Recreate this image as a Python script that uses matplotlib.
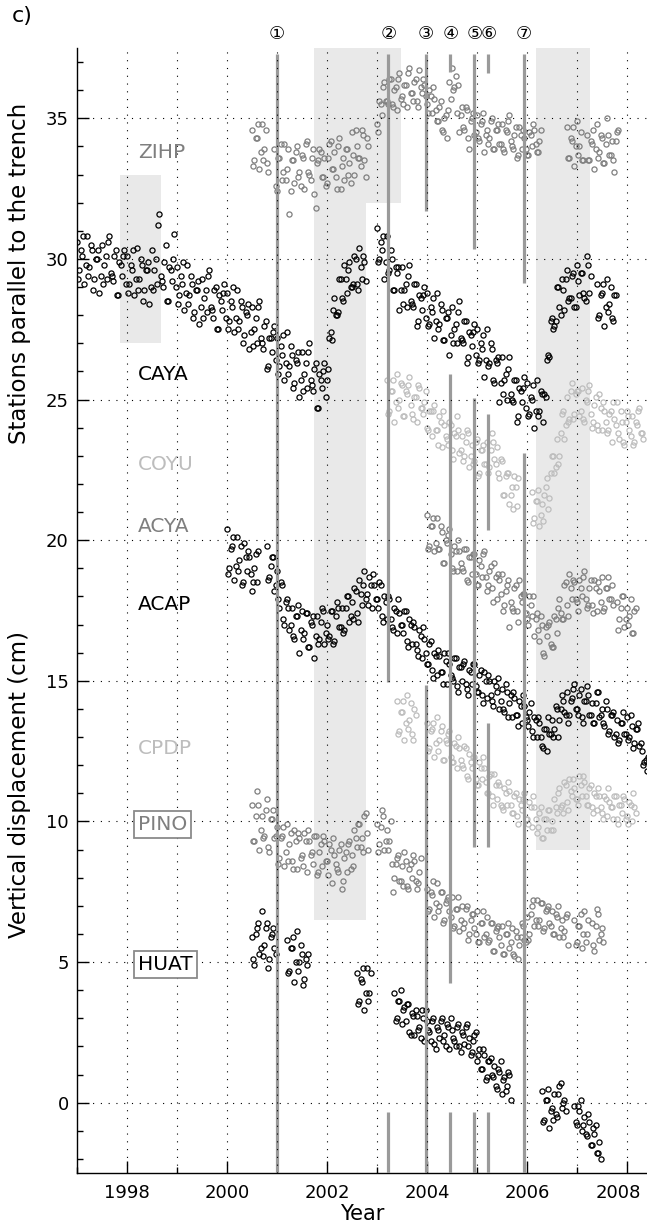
import numpy as np
import matplotlib
matplotlib.use("Agg")
import matplotlib.pyplot as plt
import matplotlib.transforms as mtransforms

plt.rcParams['font.family'] = ['DejaVu Sans', 'Noto Sans CJK JP']

STEP = 0.05  # sampling of the typed values (years); second set sits half a step later

# ---- data: segment start years and values (cm) ----
zihp_start = [2000.5, 2000.95, 2003.0, 2006.8, 2007.2]
zihp_a = [
    [34.6, 33.5, 34.3, 33.2, 34.8, 33.9, 33.4],
    [33.9, 32.4, 33.6, 32.8, 34.1, 33.2, 31.6, 33.5, 32.7, 34.0,
     33.1, 33.7, 32.5, 34.2, 33.0, 33.6, 32.3, 33.4, 33.9, 32.9,
     33.6, 32.7, 34.1, 33.2, 33.8, 32.5, 34.3, 33.3, 32.8, 33.9,
     33.4, 34.5, 33.0, 34.0, 33.6, 34.6, 33.5, 34.3],
    [34.8, 35.6, 35.1, 36.3, 35.6, 36.4, 35.5, 36.0, 35.3, 36.6,
     35.8, 36.2, 35.4, 36.8, 35.9, 36.3, 35.6, 36.7, 35.9, 36.2,
     35.5, 36.0, 35.2, 35.7, 34.9, 35.4, 34.6, 35.0, 34.3, 36.3,
     36.8, 36.1, 35.2, 34.5, 35.4, 34.6, 35.3, 33.9, 35.0, 34.4,
     35.1, 34.2, 34.9, 33.8, 34.6, 34.3, 35.0, 33.9, 34.6, 34.1,
     34.8, 33.8, 34.5, 35.1, 34.0, 34.4, 33.6, 34.7, 33.9, 34.3,
     33.7, 34.5, 34.0, 34.6, 33.8, 34.2],
    [34.7, 33.6, 34.2, 33.3, 34.9, 34.0, 33.5],
    [34.4, 33.5, 34.1, 33.2, 34.8, 33.8, 34.3, 33.4, 35.0, 33.7, 34.2, 33.1, 34.5],
]
zihp_b = [
    [33.3, 34.3, 34.8, 33.8, 33.5, 34.6, 33.1],
    [32.6, 33.6, 34.1, 33.1, 32.8, 33.9, 32.4, 33.5, 33.8, 32.9,
     32.6, 33.6, 34.1, 33.1, 32.8, 33.9, 31.8, 33.5, 33.8, 32.9,
     32.6, 33.6, 34.2, 33.2, 32.9, 34.0, 32.5, 33.6, 33.9, 33.0,
     32.7, 33.7, 34.6, 33.6, 33.3, 34.4, 32.9, 34.0],
    [34.5, 35.5, 36.1, 35.6, 35.5, 36.4, 35.4, 36.1, 36.4, 35.7,
     35.5, 36.2, 36.6, 35.9, 35.6, 36.4, 35.4, 36.1, 36.4, 35.8,
     35.2, 35.8, 36.1, 35.3, 34.9, 35.6, 34.5, 35.1, 35.3, 35.7,
     36.0, 36.5, 36.2, 35.1, 34.7, 35.4, 34.3, 34.9, 35.2, 34.5,
     34.3, 34.8, 35.2, 34.4, 34.1, 34.9, 33.9, 34.6, 34.8, 34.1,
     33.9, 34.6, 34.9, 34.2, 33.9, 34.7, 33.7, 34.4, 34.6, 33.9,
     33.7, 34.4, 34.8, 34.1, 33.8, 34.6],
    [33.6, 34.3, 34.7, 34.0, 33.7, 34.5, 33.5],
    [33.5, 34.2, 34.6, 33.9, 33.6, 34.4, 33.4, 34.1, 34.4, 33.7, 33.5, 34.2, 34.6],
]

caya_start = [1997.0, 2002.0, 2003.0, 2006.35, 2007.4]
caya_a = [
    [30.6, 29.6, 30.1, 29.1, 30.8, 29.7, 30.3, 29.3, 30.0, 28.8,
     30.5, 29.8, 29.3, 30.8, 29.4, 30.1, 28.7, 29.9, 29.4, 30.3,
     30.1, 29.1, 29.6, 28.7, 30.4, 29.3, 29.8, 28.9, 29.6, 28.4,
     30.3, 29.6, 29.1, 31.6, 29.2, 29.9, 28.5, 29.7, 29.2, 30.9,
     29.7, 28.7, 29.1, 28.2, 29.8, 28.7, 29.1, 28.1, 28.9, 27.7,
     29.3, 28.6, 28.1, 29.6, 28.2, 28.9, 27.5, 28.7, 28.2, 29.1,
     28.8, 27.8, 28.3, 27.4, 28.9, 27.8, 28.3, 27.3, 28.0, 26.8,
     28.3, 27.5, 27.0, 28.5, 27.0, 27.6, 26.1, 27.2, 26.7, 27.6,
     27.2, 26.2, 26.6, 25.7, 27.4, 26.2, 26.6, 25.6, 26.3, 25.1,
     26.7, 25.9, 25.4, 27.0, 25.5, 26.1, 24.7, 25.9, 25.4, 26.3],
    [25.7, 27.2, 27.1, 28.6, 28.0, 29.3, 28.6, 29.8, 28.8, 29.9,
     29.0, 30.1, 29.1, 30.4, 29.3, 29.9],
    [31.1, 30.0, 30.3, 29.3, 30.8, 29.6, 30.0, 28.9, 29.5, 28.2,
     29.7, 28.9, 28.3, 29.8, 28.4, 29.1, 27.6, 28.7, 28.2, 29.0,
     28.8, 27.7, 28.1, 27.2, 28.8, 27.7, 28.2, 27.1, 27.9, 26.6,
     28.3, 27.5, 27.0, 28.5, 27.1, 27.8, 26.3, 27.4, 26.9, 27.7,
     27.5, 26.4, 26.8, 25.8, 27.5, 26.3, 26.8, 25.6, 26.3, 24.9,
     26.5, 25.7, 25.0, 26.5, 25.0, 25.7, 24.2, 25.4, 24.9, 25.8,
     25.6, 24.5, 25.0, 24.0, 25.7, 24.6, 25.2],
    [25.2, 26.4, 26.5, 27.9, 27.6, 29.0, 28.3, 29.3, 28.2, 29.6,
     28.6, 29.4, 28.3, 29.8, 28.7, 29.5, 28.6, 30.1, 28.8],
    [29.1, 28.0, 28.8, 27.6, 29.3, 28.4, 27.9, 28.7],
]
caya_b = [
    [29.3, 30.3, 30.8, 29.8, 29.4, 30.5, 28.9, 30.0, 30.3, 29.4,
     29.1, 30.1, 30.6, 29.5, 29.2, 30.3, 28.7, 29.8, 30.1, 29.1,
     28.8, 29.8, 30.3, 29.3, 28.9, 30.0, 28.5, 29.6, 29.9, 29.0,
     28.9, 30.0, 31.2, 29.4, 29.0, 30.5, 28.5, 29.6, 30.0, 29.0,
     28.4, 29.4, 29.9, 28.8, 28.4, 29.4, 27.9, 28.9, 29.2, 28.3,
     27.9, 28.9, 29.4, 28.3, 27.9, 29.0, 27.5, 28.5, 28.8, 27.9,
     27.5, 28.5, 29.0, 27.9, 27.5, 28.5, 27.0, 28.1, 28.4, 27.4,
     26.9, 27.9, 28.3, 27.2, 26.8, 27.8, 26.2, 27.2, 27.4, 26.4,
     25.9, 26.9, 27.3, 26.3, 25.9, 26.9, 25.4, 26.4, 26.7, 25.7,
     25.3, 26.3, 26.7, 25.7, 25.3, 26.3, 24.7, 25.7, 26.0, 25.1],
    [26.1, 27.4, 28.2, 28.0, 28.1, 29.3, 28.5, 29.3, 29.6, 29.0,
     29.1, 30.0, 28.9, 29.7, 30.1, 29.2],
    [29.9, 30.6, 30.8, 29.9, 29.5, 30.3, 28.9, 29.7, 29.7, 28.9,
     28.4, 29.1, 29.4, 28.5, 28.3, 29.1, 27.8, 28.6, 28.7, 27.9,
     27.6, 28.3, 28.6, 27.8, 27.5, 28.4, 27.1, 27.9, 28.1, 27.3,
     27.0, 27.7, 28.1, 27.2, 27.0, 27.8, 26.5, 27.3, 27.4, 26.6,
     26.3, 27.0, 27.3, 26.4, 26.2, 27.0, 25.7, 26.4, 26.5, 25.6,
     25.2, 25.9, 26.1, 25.2, 24.9, 25.7, 24.4, 25.3, 25.4, 24.7,
     24.4, 25.1, 25.5, 24.6, 24.4, 25.3, 24.2],
    [25.1, 26.6, 27.8, 27.5, 27.8, 29.0, 28.0, 28.9, 29.3, 28.5,
     28.6, 29.5, 28.3, 29.2, 29.5, 28.8, 28.5, 29.8, 29.4],
    [27.9, 28.7, 29.1, 28.3, 28.1, 29.0, 27.8, 28.7],
]

coyu_start = [2003.2, 2006.1]
coyu_a = [
    [25.7, 24.6, 25.3, 24.2, 25.9, 25.0, 25.5, 24.4, 25.2, 25.8,
     24.5, 25.1, 24.2, 25.4, 24.7, 24.9, 24.0, 24.6, 23.7, 24.8,
     23.9, 24.4, 23.3, 24.1, 23.6, 24.2, 23.2, 23.8, 24.4, 23.1,
     23.7, 23.0, 23.9, 22.6, 23.4, 22.8, 23.6, 22.4, 23.2, 22.7,
     23.5, 22.6, 23.8, 22.9, 23.3, 22.2, 22.8, 21.6, 22.4, 21.3,
     21.9, 22.3, 21.2],
    [21.7, 20.8, 21.4, 20.5, 21.3, 21.6, 22.2, 21.5, 23.0, 22.4,
     23.6, 23.0, 24.5, 23.6, 25.1, 24.3, 25.6, 24.5, 25.3, 24.4,
     25.4, 24.2, 24.9, 25.5, 24.0, 24.8, 24.1, 25.2, 23.9, 24.6,
     23.8, 24.5, 23.5, 24.3, 24.9, 23.6, 24.2, 23.4, 24.6, 23.9,
     24.4, 23.5, 24.1, 24.7, 23.8],
]
coyu_b = [
    [24.5, 25.3, 25.7, 24.9, 24.7, 25.6, 24.4, 25.3, 25.5, 24.8,
     24.3, 25.1, 25.5, 24.7, 24.5, 25.3, 23.9, 24.6, 24.6, 23.9,
     23.4, 24.2, 24.6, 23.7, 23.4, 24.1, 22.9, 23.7, 23.9, 23.2,
     22.8, 23.5, 23.8, 23.0, 22.7, 23.5, 22.3, 23.2, 23.4, 22.7,
     22.4, 23.2, 23.5, 22.7, 22.4, 22.9, 21.6, 22.3, 22.4, 21.6,
     21.1, 21.9, 22.2],
    [20.6, 21.4, 21.8, 20.9, 20.7, 21.9, 21.1, 22.4, 23.0, 22.6,
     22.7, 23.8, 24.6, 24.1, 24.2, 25.3, 24.3, 25.2, 25.3, 24.6,
     24.3, 25.0, 25.3, 24.5, 24.2, 25.1, 23.9, 24.7, 24.9, 24.2,
     23.9, 24.6, 24.9, 24.1, 23.8, 24.6, 23.5, 24.2, 24.4, 23.7,
     23.4, 24.2, 24.6, 23.8, 23.6],
]

acya_start = [2004.0, 2007.8]
acya_a = [
    [20.9, 19.8, 20.5, 19.6, 20.8, 19.7, 20.3, 19.2, 19.9, 20.4,
     19.0, 19.8, 18.9, 19.6, 19.0, 19.7, 18.6, 19.4, 18.8, 19.5,
     18.4, 19.3, 18.7, 19.6, 18.2, 18.9, 18.3, 19.2, 17.9, 18.6,
     18.8, 17.7, 18.4, 16.9, 17.6, 18.3, 17.5, 18.6, 17.8, 18.1,
     17.2, 18.0, 17.3, 16.6, 17.4, 16.4, 17.0, 15.9, 16.6, 17.1,
     16.2, 17.3, 16.7, 17.9, 17.2, 18.4, 17.7, 18.8, 17.9, 18.5,
     17.8, 18.6, 18.0, 18.9, 17.6, 18.3, 17.7, 18.6, 17.5, 18.2,
     18.7, 17.6, 18.3, 17.9, 18.4],
    [17.8, 17.2, 18.0, 16.9, 17.6, 17.3, 16.7, 17.5],
]
acya_b = [
    [19.7, 20.5, 20.8, 19.9, 19.7, 20.5, 19.2, 20.0, 20.2, 19.5,
     18.9, 19.6, 20.0, 19.2, 18.9, 19.7, 18.5, 19.4, 19.5, 18.8,
     18.4, 19.1, 19.5, 18.7, 18.4, 19.1, 17.8, 18.7, 18.8, 18.1,
     17.5, 18.2, 18.6, 17.8, 17.5, 18.4, 17.1, 18.0, 18.1, 17.4,
     17.0, 17.7, 18.0, 17.2, 16.8, 17.3, 16.0, 16.9, 17.0, 16.3,
     16.2, 17.2, 17.6, 17.4, 17.2, 18.5, 17.3, 18.3, 18.6, 17.9,
     17.5, 18.3, 18.7, 17.9, 17.7, 18.6, 17.4, 18.3, 18.5, 17.8,
     17.5, 18.3, 18.7, 17.9, 17.7],
    [16.8, 17.6, 18.0, 17.2, 17.0, 17.9, 16.7, 17.6],
]

acap_start = [2000.0, 2000.8]
acap_a = [
    [20.4, 19.0, 19.8, 18.6, 20.1, 19.3, 18.4, 19.9, 18.9, 19.4, 18.2, 19.0, 18.5],
    [19.8, 18.7, 19.4, 18.2, 18.9, 17.6, 18.4, 17.0, 17.9, 16.8,
     17.6, 16.5, 17.3, 16.0, 17.5, 16.7, 17.4, 16.2, 17.0, 15.8,
     17.3, 16.5, 17.6, 16.3, 17.0, 16.6, 17.5, 16.4, 17.8, 16.9,
     17.6, 16.8, 18.0, 17.1, 17.8, 18.3, 17.4, 18.6, 17.7, 18.9,
     18.1, 18.7, 17.6, 18.4, 17.9, 18.5, 17.3, 18.0, 17.2, 17.9,
     16.9, 17.6, 16.7, 17.4, 17.0, 17.5, 16.4, 17.2, 16.3, 16.9,
     16.1, 16.8, 15.8, 16.5, 15.6, 16.3, 15.4, 16.0, 15.2, 15.9,
     15.3, 16.0, 14.9, 15.6, 15.1, 15.8, 14.8, 15.5, 15.0, 15.7,
     14.7, 15.4, 14.9, 15.6, 14.6, 15.2, 14.5, 15.3, 14.4, 15.0,
     14.3, 15.0, 14.6, 14.0, 14.7, 13.9, 14.6, 14.2, 13.7, 14.4,
     13.8, 14.3, 13.5, 14.1, 13.6, 13.9, 13.2, 13.7, 13.0, 13.5,
     12.7, 13.3, 12.5, 13.1, 13.6, 13.3, 14.0, 13.6, 14.5, 13.9,
     14.6, 13.8, 14.4, 14.9, 14.0, 14.5, 13.7, 14.3, 14.8, 13.8,
     14.2, 13.5, 14.6, 13.7, 14.0, 13.4, 14.0, 13.2, 13.8, 13.0,
     13.6, 12.9, 13.5, 13.1, 13.7, 13.0, 13.4, 12.8, 13.3, 12.7,
     12.5, 12.1, 11.8],
]
acap_b = [
    [18.8, 19.7, 20.1, 19.1, 18.9, 19.8, 18.5, 19.4, 19.6, 18.8, 18.5, 19.5, 19.6],
    [18.6, 19.1, 19.4, 18.4, 17.9, 18.5, 17.2, 17.8, 17.6, 17.0,
     16.6, 17.3, 17.7, 16.8, 16.5, 17.4, 16.2, 17.1, 17.3, 16.6,
     16.3, 17.1, 17.5, 16.7, 16.5, 17.5, 16.3, 17.3, 17.6, 16.9,
     16.7, 17.6, 18.0, 17.3, 17.2, 18.2, 17.1, 18.1, 18.4, 17.9,
     17.7, 18.4, 18.8, 17.9, 17.6, 18.4, 17.1, 17.8, 18.0, 17.2,
     16.8, 17.5, 17.9, 17.0, 16.7, 17.5, 16.2, 17.0, 17.1, 16.3,
     15.9, 16.6, 16.9, 16.0, 15.6, 16.4, 15.1, 15.9, 16.1, 15.3,
     14.9, 15.7, 16.0, 15.2, 15.0, 15.8, 14.6, 15.5, 15.6, 14.9,
     14.5, 15.3, 15.6, 14.8, 14.6, 15.4, 14.2, 15.0, 15.2, 14.5,
     14.1, 14.8, 15.1, 14.3, 14.0, 14.9, 13.7, 14.5, 14.6, 13.8,
     13.4, 14.1, 14.5, 13.7, 13.4, 14.2, 13.0, 13.6, 13.7, 13.0,
     12.6, 13.3, 13.7, 13.1, 13.0, 14.1, 13.0, 14.0, 14.3, 13.8,
     13.5, 14.3, 14.7, 14.0, 13.8, 14.7, 13.5, 14.3, 14.5, 13.8,
     13.5, 14.2, 14.6, 13.8, 13.5, 14.3, 13.1, 13.8, 13.9, 13.1,
     12.8, 13.5, 13.9, 13.1, 12.9, 13.8, 12.6, 13.3, 13.5, 12.8,
     12.0, 12.2, 12.3],
]

cpdp_start = [2003.4, 2004.0]
cpdp_a = [
    [14.3, 13.2, 13.9, 12.9, 14.5, 13.6, 13.1, 14.0],
    [13.5, 12.6, 13.3, 12.3, 13.7, 12.9, 13.4, 12.2, 12.8, 13.2,
     12.1, 12.8, 11.9, 12.6, 12.0, 12.7, 11.6, 12.4, 11.9, 12.3,
     11.3, 12.1, 11.5, 11.9, 11.0, 11.6, 10.9, 11.7, 10.8, 11.3,
     10.5, 11.2, 10.6, 11.1, 10.3, 10.9, 10.2, 10.8, 10.4, 11.0,
     10.1, 10.7, 9.8, 10.5, 9.6, 10.3, 9.4, 10.1, 9.7, 10.4,
     10.0, 10.8, 10.3, 11.2, 10.6, 11.4, 10.7, 11.5, 10.9, 11.2,
     10.8, 11.6, 10.9, 11.4, 10.6, 11.2, 10.5, 11.0, 10.4, 10.9,
     10.3, 10.9, 10.2, 10.7, 10.5, 10.9, 10.1, 10.6, 10.3, 10.8,
     10.2, 10.7, 10.0, 10.5],
]
cpdp_b = [
    [13.1, 13.9, 14.3, 13.5, 13.3, 14.2, 12.9, 13.8],
    [12.5, 13.2, 13.5, 12.8, 12.5, 13.2, 12.2, 12.9, 13.1, 12.3,
     12.1, 12.7, 13.0, 12.2, 11.9, 12.6, 11.5, 12.1, 12.3, 11.5,
     11.3, 11.9, 12.3, 11.4, 11.0, 11.7, 10.6, 11.3, 11.4, 10.6,
     10.4, 11.0, 11.4, 10.6, 10.3, 11.0, 9.9, 10.6, 10.8, 10.1,
     9.9, 10.5, 10.9, 10.1, 9.8, 10.5, 9.4, 10.1, 10.4, 9.7,
     9.7, 10.5, 11.0, 10.5, 10.3, 11.3, 10.4, 11.1, 11.5, 10.8,
     10.6, 11.3, 11.6, 10.9, 10.6, 11.3, 10.3, 10.9, 11.2, 10.5,
     10.1, 10.8, 11.2, 10.5, 10.1, 10.9, 9.9, 10.6, 10.9, 10.1,
     9.9, 10.6, 11.0, 10.3],
]

pino_start = [2000.5, 2003.0, 2004.0, 2006.95, 2007.3]
pino_a = [
    [10.6, 9.3, 11.1, 9.0, 10.2, 9.5, 10.8, 8.9, 10.1, 9.4,
     9.8, 8.7, 9.5, 8.4, 9.9, 9.2, 8.6, 9.7, 8.3, 9.4,
     8.8, 9.6, 8.2, 9.3, 8.9, 9.5, 8.1, 8.9, 8.4, 9.3,
     8.6, 9.2, 7.8, 8.8, 8.3, 9.0, 7.6, 8.7, 8.2, 9.3,
     8.8, 9.7, 9.1, 9.9, 9.4, 10.2, 9.6],
    [9.9, 9.2, 10.4, 9.0, 9.7, 9.3, 8.5, 8.0, 8.7, 7.9,
     8.4, 8.9, 7.7, 8.3, 8.0, 8.6, 7.6, 8.2],
    [7.6, 6.9, 7.4, 6.6, 7.8, 7.0, 7.5, 6.5, 7.2, 6.8,
     7.3, 6.3, 6.9, 6.1, 7.0, 6.4, 7.0, 6.0, 6.7, 6.2,
     6.8, 5.7, 6.4, 5.9, 6.6, 5.8, 6.4, 5.4, 6.2, 5.9,
     6.3, 5.3, 6.0, 5.5, 6.2, 5.2, 5.9, 5.6, 6.4, 5.8,
     6.6, 6.0, 7.0, 6.3, 7.2, 6.5, 7.1, 6.2, 6.9, 6.4,
     6.8, 6.0, 6.6, 5.9, 6.5, 6.1, 6.7],
    [6.5, 5.7, 6.3, 5.5, 6.8, 6.0],
    [6.4, 5.4, 6.9, 5.8, 6.2],
]
pino_b = [
    [9.3, 10.2, 10.6, 9.7, 9.4, 10.4, 9.1, 10.1, 10.4, 9.5,
     8.5, 9.4, 9.8, 8.9, 8.6, 9.6, 8.3, 9.3, 9.6, 8.7,
     8.4, 9.3, 9.7, 8.8, 8.5, 9.5, 8.2, 9.2, 9.5, 8.6,
     8.1, 9.0, 9.4, 8.5, 8.2, 9.2, 7.9, 8.9, 9.2, 8.3,
     8.4, 9.4, 9.9, 9.1, 8.9, 10.3, 9.0],
    [8.9, 9.8, 10.2, 9.3, 9.0, 10.0, 7.5, 8.5, 8.8, 7.9,
     7.7, 8.6, 7.6, 8.5, 8.8, 7.9, 7.8, 8.7],
    [6.8, 7.5, 7.9, 7.1, 6.8, 7.5, 6.4, 7.1, 7.3, 6.6,
     6.2, 6.9, 7.3, 6.5, 6.2, 6.9, 5.8, 6.5, 6.7, 6.0,
     5.7, 6.4, 6.8, 6.0, 5.7, 6.4, 5.4, 6.1, 6.3, 5.6,
     5.3, 6.0, 6.4, 5.7, 5.3, 6.1, 5.1, 5.9, 6.3, 5.7,
     5.8, 6.7, 7.2, 6.5, 6.3, 7.1, 6.1, 6.8, 7.0, 6.3,
     6.0, 6.7, 7.0, 6.2, 5.9, 6.6, 5.6],
    [5.6, 6.3, 6.7, 6.0, 5.7, 6.5],
    [5.6, 6.3, 6.7, 6.0, 5.7],
]

huat_start = [2000.5, 2001.2, 2002.6, 2003.35, 2006.3, 2006.55, 2006.95]
huat_a = [
    [5.9, 4.9, 6.2, 5.3, 6.8, 5.6, 6.4, 5.1, 6.0, 5.5],
    [5.8, 4.7, 5.5, 4.3, 6.1, 5.0, 5.3, 4.4, 4.9],
    [4.6, 3.6, 4.3, 3.3, 4.8, 3.9],
    [3.9, 3.0, 3.6, 2.8, 3.4, 3.5, 2.5, 3.2, 2.4, 3.1,
     2.7, 3.3, 2.2, 2.9, 2.5, 2.9, 2.1, 2.7, 2.3, 3.0,
     2.4, 2.8, 1.9, 2.6, 2.2, 2.7, 2.0, 2.5, 2.1, 2.8,
     2.3, 1.8, 2.4, 1.5, 1.9, 1.2, 1.7, 0.9, 1.5, 1.0,
     1.3, 0.5, 1.1, 0.3, 0.9, 0.6, 1.0],
    [0.4, -0.6, 0.1, -0.9, -0.2],
    [0.3, -0.5, 0.6, -0.2, 0.1],
    [-0.1, -0.8, -0.3, -1.0, -0.5, -1.2, -0.7, -1.5, -1.1, -1.8, -1.4],
]
huat_b = [
    [5.1, 6.0, 6.4, 5.5, 5.2, 6.2, 4.8, 5.9, 6.2, 5.3],
    [4.6, 5.5, 5.9, 5.0, 4.7, 5.6, 4.2, 5.1, 5.3],
    [3.5, 4.4, 4.8, 3.9, 3.6, 4.6],
    [2.9, 3.6, 4.0, 3.3, 2.9, 3.5, 2.4, 3.1, 3.3, 2.6,
     2.3, 3.0, 3.3, 2.6, 2.2, 3.0, 1.9, 2.6, 2.9, 2.2,
     2.0, 2.7, 3.0, 2.3, 2.0, 2.8, 1.8, 2.4, 2.7, 2.0,
     1.7, 2.2, 2.5, 1.7, 1.2, 1.9, 0.8, 1.5, 1.6, 0.9,
     0.6, 1.2, 1.5, 0.8, 0.4, 1.1, 0.1],
    [-0.7, 0.1, 0.5, -0.3, -0.6],
    [-0.4, 0.3, 0.7, 0.0, -0.3],
    [-0.7, -0.1, 0.1, -0.8, -1.1, -0.4, -1.5, -0.9, -0.8, -1.8, -2.0],
]

stations = ['ZIHP', 'CAYA', 'COYU', 'ACYA', 'ACAP', 'CPDP', 'PINO', 'HUAT']
station_start = [zihp_start, caya_start, coyu_start, acya_start,
                 acap_start, cpdp_start, pino_start, huat_start]
station_a = [zihp_a, caya_a, coyu_a, acya_a, acap_a, cpdp_a, pino_a, huat_a]
station_b = [zihp_b, caya_b, coyu_b, acya_b, acap_b, cpdp_b, pino_b, huat_b]
station_label_y = [33.8, 25.9, 22.7, 20.5, 17.7, 12.6, 9.9, 4.9]

# events (circled numbers) and the parts of each bar that are drawn
event_x = [2001.0, 2003.23, 2003.98, 2004.47, 2004.95, 2005.23, 2005.94]
event_names = ['①', '②', '③', '④', '⑤', '⑥', '⑦']
event_spans = [
    [(-2.5, 37.3)],
    [(14.95, 37.3), (-2.5, -0.33)],
    [(31.7, 37.3), (-2.5, 14.85)],
    [(36.66, 37.3), (4.25, 25.9), (-2.5, -0.33)],
    [(30.35, 37.3), (9.1, 25.05), (-2.5, -0.33)],
    [(36.6, 37.3), (20.35, 24.5), (9.1, 13.5), (-2.5, -0.33)],
    [(29.15, 37.3), (-2.5, 23.1)],
]

# shaded periods: (x0, x1, y0, y1)
shade_boxes = [
    (1997.86, 1998.69, 27.0, 33.0),
    (2001.74, 2002.78, 6.5, 37.5),
    (2002.78, 2003.48, 32.0, 37.5),
    (2006.18, 2007.27, 9.0, 37.5),
]

BLACK = '#000000'
GRAY = '#7f7f7f'
LIGHT = '#bdbdbd'
colors = [GRAY, BLACK, LIGHT, GRAY, BLACK, LIGHT, GRAY, BLACK]
boxed = ['PINO', 'HUAT']

fig = plt.figure(figsize=(6.47, 12.30), dpi=100)
ax = fig.add_axes([0.119, 0.0463, 0.881, 0.9147])

for x0, x1, y0, y1 in shade_boxes:
    ax.add_patch(plt.Rectangle((x0, y0), x1 - x0, y1 - y0,
                               facecolor='#e9e9e9', edgecolor='none', zorder=0))

for starts, va, vb, col in zip(station_start, station_a, station_b, colors):
    for t0, a, b in zip(starts, va, vb):
        t = t0 + STEP * np.arange(len(a))
        ax.plot(t, a, ls='none', marker='o', ms=3.7, mfc='none',
                mec=col, mew=0.9, zorder=2)
        ax.plot(t + STEP / 2, b, ls='none', marker='o', ms=3.7, mfc='none',
                mec=col, mew=0.9, zorder=2)

for x, spans in zip(event_x, event_spans):
    for y0, y1 in spans:
        ax.plot([x, x], [y0, y1], color='#9a9a9a', lw=2.3,
                solid_capstyle='butt', zorder=3)

for x, lab in zip(event_x, event_names):
    ax.text(x, 1.012, lab, transform=ax.get_xaxis_transform(),
            ha='center', va='center', fontsize=13)

for name, y, col in zip(stations, station_label_y, colors):
    kw = {}
    if name in boxed:
        kw['bbox'] = dict(boxstyle='square,pad=0.2', fc='white', ec='#8a8a8a', lw=1.3)
    ax.text(1998.22, y, name, color=col, fontsize=14.5, ha='left', va='center',
            zorder=6, **kw)

ax.set_xlim(1997.0, 2008.4)
ax.set_ylim(-2.5, 37.5)
ax.set_xticks(np.arange(1998, 2009, 2))
ax.set_xticks(np.arange(1997, 2009, 1), minor=True)
ax.set_yticks(np.arange(0, 36, 5))
ax.set_yticks(np.arange(-2, 38, 1), minor=True)
ax.tick_params(which='major', direction='in', length=8.5, width=1, labelsize=13, pad=6)
ax.tick_params(which='minor', direction='in', length=4, width=1)
ax.tick_params(axis='x', which='major', pad=8)

# last year label sits at the right edge; nudge it inside the canvas
last = ax.get_xticklabels()[-1]
last.set_transform(last.get_transform() +
                   mtransforms.ScaledTranslation(-6 / 72, 0, fig.dpi_scale_trans))

for yr in range(1998, 2009):
    ax.axvline(yr, color='k', lw=0.8, ls=(0, (1, 6)), zorder=4)
for yv in range(0, 36, 5):
    ax.axhline(yv, color='k', lw=0.8, ls=(0, (1, 6)), zorder=4)

for s in ['top', 'right']:
    ax.spines[s].set_visible(False)
ax.spines['left'].set_linewidth(1)
ax.spines['bottom'].set_linewidth(1)

ax.set_xlabel('Year', fontsize=15, labelpad=1)

fig.text(0.03, 0.778, 'Stations parallel to the trench', rotation=90,
         ha='center', va='center', fontsize=16.5)
fig.text(0.03, 0.362, 'Vertical displacement (cm)', rotation=90,
         ha='center', va='center', fontsize=16.5)
fig.text(0.018, 0.987, 'c)', fontsize=16, ha='left', va='center')

fig.savefig('out.png', dpi=100)
